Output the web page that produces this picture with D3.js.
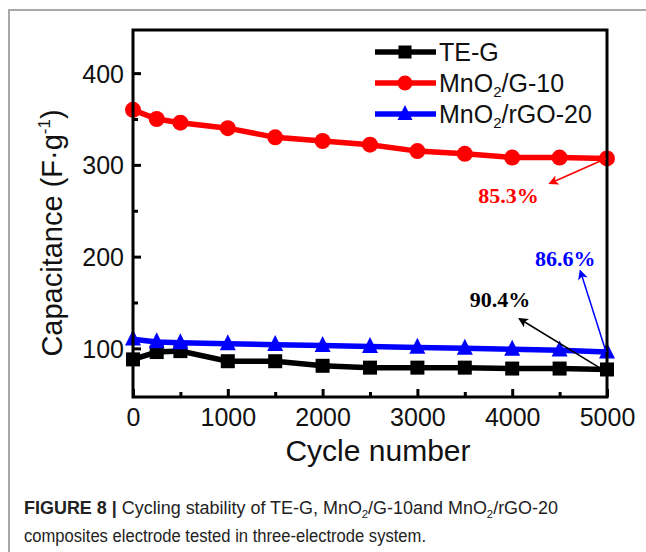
<!DOCTYPE html>
<html>
<head>
<meta charset="utf-8">
<script src="https://cdn.jsdelivr.net/npm/d3@7"></script>
<style>
  body { margin: 0; background: #fff; }
  svg { display: block; font-family: "Liberation Sans", Arial, sans-serif; }
</style>
</head>
<body>
<div id="chart-area"></div>
<script>
// data
const cycles = [0, 250, 500, 1000, 1500, 2000, 2500, 3000, 3500, 4000, 4500, 5000];
const teG = [88, 96, 97, 86, 86, 81, 79, 79, 79, 78, 78, 77];
const mnoG10 = [360, 350, 346, 340, 330, 326, 322, 315, 312, 308, 308, 307];
const mnoRgo20 = [110, 107, 106, 105, 104, 103, 102, 101, 100, 99, 98, 96];
const xTicks = [0, 1000, 2000, 3000, 4000, 5000];
const xMinor = [500, 1500, 2500, 3500, 4500];
const yTicks = [100, 200, 300, 400];
const yMinor = [150, 250, 350];
const seriesNames = ["TE-G", "MnO2/G-10", "MnO2/rGO-20"];
const seriesColors = ["#000000", "#ff0000", "#0000ff"];
const seriesShapes = ["square", "circle", "triangle"];
// retention labels: text, label position, arrow tail, arrow head (data coords)
const notes = [
  { text: "85.3%", color: "#ff0000", at: [3960, 267], from: [4990, 307], to: [4400, 280] },
  { text: "86.6%", color: "#0000ff", at: [4560, 198], from: [4990, 96], to: [4720, 184] },
  { text: "90.4%", color: "#000000", at: [3870, 153], from: [4950, 77], to: [4080, 132] }
];

const W = 646, H = 552;
const PLOT = { LEFT: 133, RIGHT: 607, TOP: 30, BOTTOM: 397 };

const svg = d3.select("#chart-area").append("svg")
  .attr("width", W)
  .attr("height", H);

// outer gray frame
svg.append("rect")
  .attr("x", 9).attr("y", 10)
  .attr("width", 700).attr("height", 600)
  .attr("fill", "none")
  .attr("stroke", "#a8a8a8")
  .attr("stroke-width", 2);

const x = d3.scaleLinear().domain([0, 5000]).range([PLOT.LEFT, PLOT.RIGHT]);
const y = d3.scaleLinear().domain([47, 447]).range([PLOT.BOTTOM, PLOT.TOP]);

// axes with inward ticks
const xAxis = svg.append("g")
  .attr("transform", `translate(0, ${PLOT.BOTTOM})`)
  .call(d3.axisBottom(x).tickValues(xTicks).tickSize(-8).tickPadding(11).tickFormat(d3.format("d")));
svg.append("g")
  .attr("transform", `translate(0, ${PLOT.BOTTOM})`)
  .call(d3.axisBottom(x).tickValues(xMinor).tickSize(-5).tickFormat(""));
const yAxis = svg.append("g")
  .attr("transform", `translate(${PLOT.LEFT}, 0)`)
  .call(d3.axisLeft(y).tickValues(yTicks).tickSize(-8).tickPadding(9));
svg.append("g")
  .attr("transform", `translate(${PLOT.LEFT}, 0)`)
  .call(d3.axisLeft(y).tickValues(yMinor).tickSize(-5).tickFormat(""));

svg.selectAll(".domain").remove();
svg.selectAll(".tick line").attr("stroke", "#000").attr("stroke-width", 3);
svg.selectAll(".tick text")
  .attr("font-size", "25px")
  .attr("font-family", "Liberation Sans, Arial, sans-serif")
  .attr("fill", "#111");
yAxis.selectAll(".tick text").attr("dy", "0.36em");

// series
const lineGen = d3.line()
  .x(d => x(d[0]))
  .y(d => y(d[1]));

const allSeries = [teG, mnoG10, mnoRgo20];
const plotG = svg.append("g");

function drawMarker(g, shape, cx, cy, color, size) {
  if (shape === "square") {
    g.append("rect")
      .attr("x", cx - size / 2).attr("y", cy - size / 2)
      .attr("width", size).attr("height", size)
      .attr("fill", color);
  } else if (shape === "circle") {
    g.append("circle")
      .attr("cx", cx).attr("cy", cy).attr("r", size / 2 + 1)
      .attr("fill", color);
  } else {
    const s = size + 2;
    g.append("path")
      .attr("d", `M${cx},${cy - s * 0.6} L${cx + s / 2},${cy + s * 0.4} L${cx - s / 2},${cy + s * 0.4} Z`)
      .attr("fill", color);
  }
}

// draw blue on top of black like the original
[0, 1, 2].forEach(i => {
  const pts = cycles.map((c, j) => [c, allSeries[i][j]]);
  plotG.append("path")
    .attr("d", lineGen(pts))
    .attr("fill", "none")
    .attr("stroke", seriesColors[i])
    .attr("stroke-width", 5.5);
  pts.forEach(p => drawMarker(plotG, seriesShapes[i], x(p[0]), y(p[1]), seriesColors[i], 14));
});

// plot frame
svg.append("rect")
  .attr("x", PLOT.LEFT).attr("y", PLOT.TOP)
  .attr("width", PLOT.RIGHT - PLOT.LEFT)
  .attr("height", PLOT.BOTTOM - PLOT.TOP)
  .attr("fill", "none")
  .attr("stroke", "#000")
  .attr("stroke-width", 3);

// arrows and retention labels
const defs = svg.append("defs");
notes.forEach((n, i) => {
  defs.append("marker")
    .attr("id", "arrow" + i)
    .attr("viewBox", "0 0 10 10")
    .attr("refX", 8).attr("refY", 5)
    .attr("markerWidth", 11).attr("markerHeight", 10)
    .attr("markerUnits", "userSpaceOnUse")
    .attr("orient", "auto")
    .append("path")
    .attr("d", "M0,0 L10,5 L0,10 L2.5,5 Z")
    .attr("fill", n.color);
  svg.append("line")
    .attr("x1", x(n.from[0])).attr("y1", y(n.from[1]))
    .attr("x2", x(n.to[0])).attr("y2", y(n.to[1]))
    .attr("stroke", n.color)
    .attr("stroke-width", 1.5)
    .attr("marker-end", `url(#arrow${i})`);
  svg.append("text")
    .attr("x", x(n.at[0])).attr("y", y(n.at[1]))
    .attr("dy", "0.35em")
    .attr("text-anchor", "middle")
    .attr("font-family", "Liberation Serif, Times New Roman, serif")
    .attr("font-weight", "700")
    .attr("font-size", "22px")
    .attr("fill", n.color)
    .text(n.text);
});

// legend
const legend = svg.append("g");
seriesNames.forEach((name, i) => {
  const ly = 52 + i * 31;
  legend.append("line")
    .attr("x1", 375).attr("x2", 436)
    .attr("y1", ly).attr("y2", ly)
    .attr("stroke", seriesColors[i])
    .attr("stroke-width", 5.5);
  drawMarker(legend, seriesShapes[i], 405, ly, seriesColors[i], 13);
  const t = legend.append("text")
    .attr("x", 439).attr("y", ly)
    .attr("dy", "0.36em")
    .attr("font-size", "25px")
    .attr("fill", "#111");
  const parts = name.split("O2");
  if (parts.length > 1) {
    t.append("tspan").text(parts[0] + "O");
    t.append("tspan").attr("font-size", "15px").attr("dy", "5").text("2");
    t.append("tspan").attr("dy", "-5").text(parts[1]);
  } else {
    t.text(name);
  }
});

// axis titles
svg.append("text")
  .attr("x", 378).attr("y", 461)
  .attr("text-anchor", "middle")
  .attr("font-size", "30px")
  .attr("fill", "#111")
  .text("Cycle number");

const yl = svg.append("text")
  .attr("transform", "translate(62, 233) rotate(-90)")
  .attr("text-anchor", "middle")
  .attr("font-size", "29px")
  .attr("fill", "#111");
yl.append("tspan").text("Capacitance (F·g");
yl.append("tspan").attr("font-size", "17px").attr("dy", "-12").text("-1");
yl.append("tspan").attr("dy", "12").text(")");

// caption
const cap = svg.append("g").attr("font-size", "17.5px").attr("fill", "#222");
const c1 = cap.append("text").attr("x", 24).attr("y", 514)
  .attr("textLength", 534).attr("lengthAdjust", "spacingAndGlyphs");
c1.append("tspan").attr("font-weight", "700").text("FIGURE 8 | ");
c1.append("tspan").text("Cycling stability of TE-G, MnO");
c1.append("tspan").attr("font-size", "11px").attr("dy", "4").text("2");
c1.append("tspan").attr("dy", "-4").text("/G-10and MnO");
c1.append("tspan").attr("font-size", "11px").attr("dy", "4").text("2");
c1.append("tspan").attr("dy", "-4").text("/rGO-20");
cap.append("text").attr("x", 24).attr("y", 542)
  .attr("textLength", 402).attr("lengthAdjust", "spacingAndGlyphs")
  .text("composites electrode tested in three-electrode system.");
</script>
</body>
</html>
